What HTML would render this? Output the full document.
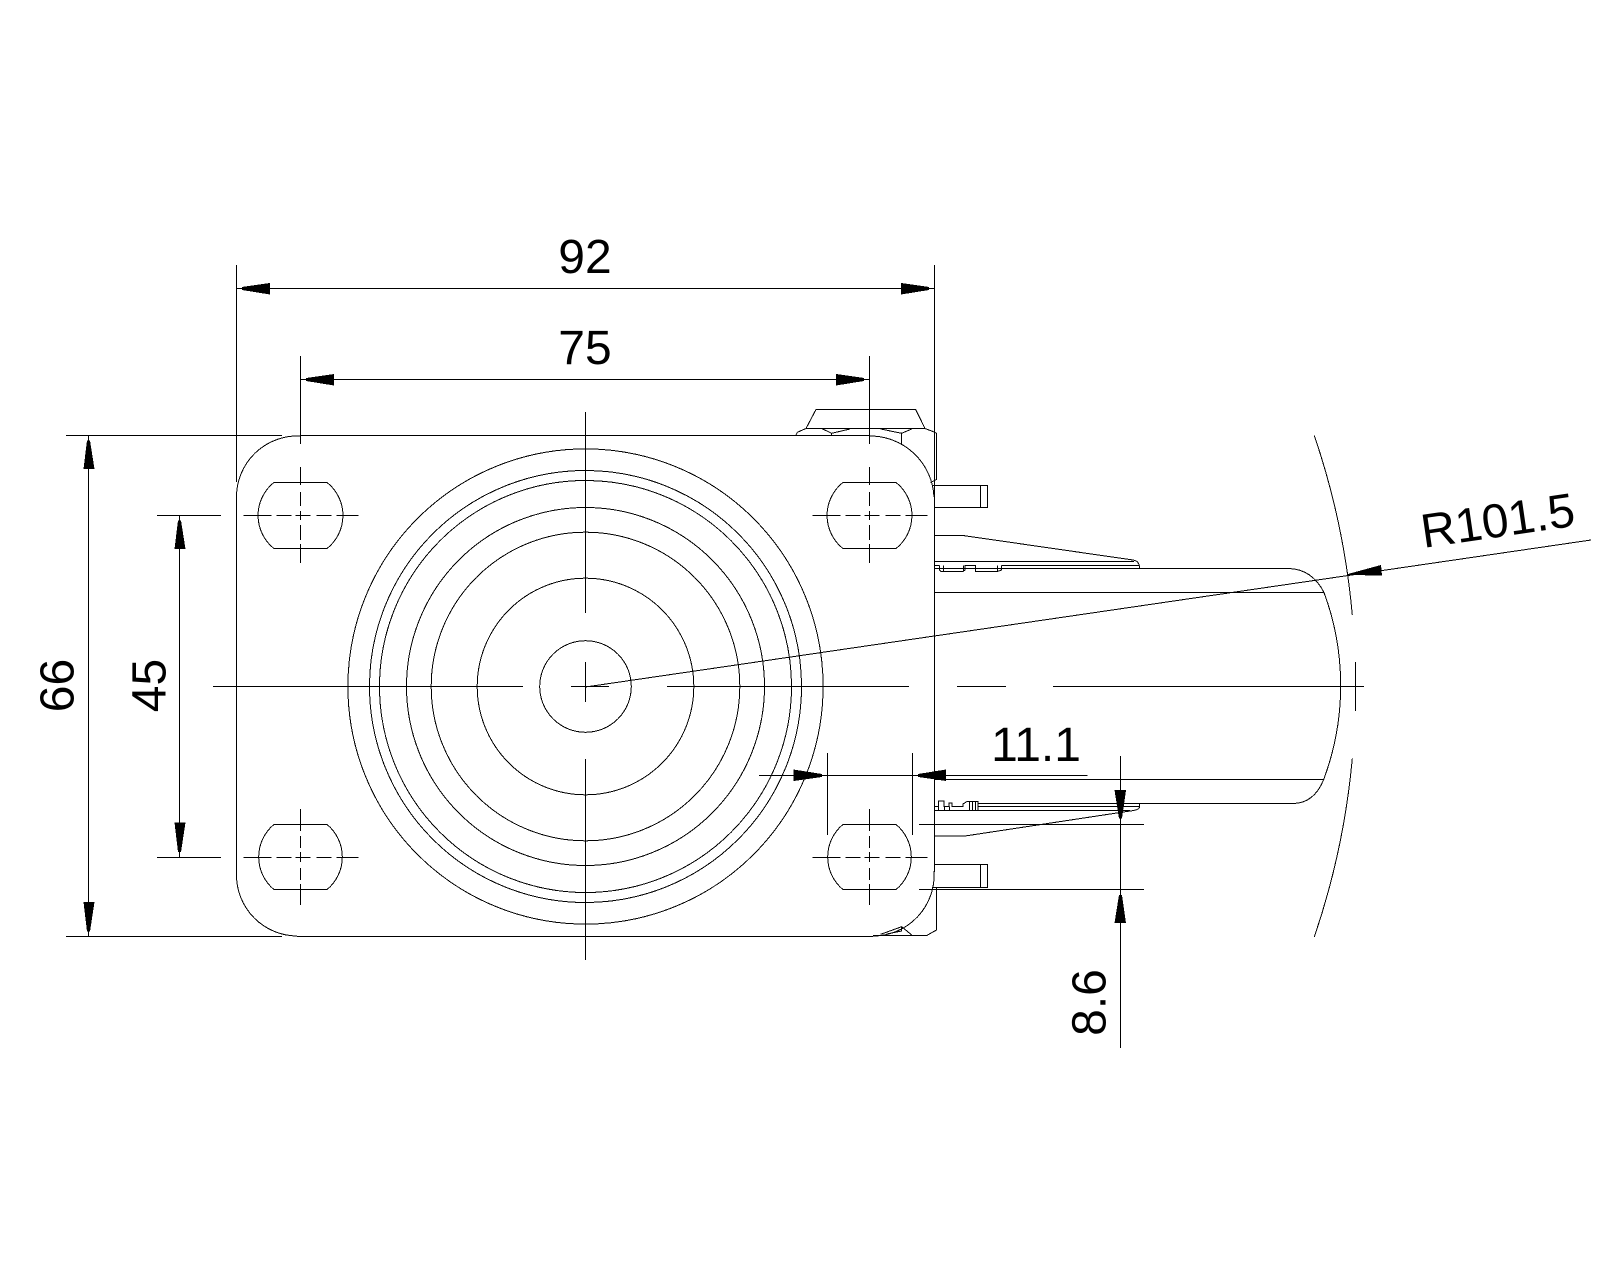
<!DOCTYPE html>
<html><head><meta charset="utf-8"><style>
html,body{margin:0;padding:0;background:#fff;width:1600px;height:1280px;overflow:hidden}
svg{display:block}
text{font-family:"Liberation Sans",sans-serif;font-size:48px;fill:#000;stroke:none}
</style></head><body>
<svg width="1600" height="1280" viewBox="0 0 1600 1280" xmlns="http://www.w3.org/2000/svg">
<rect width="1600" height="1280" fill="#fff"/>
<g fill="none" stroke="#000" stroke-width="1" shape-rendering="crispEdges">
<!-- circles -->
<circle cx="585.5" cy="686.5" r="237.6"/>
<circle cx="585.5" cy="686.5" r="216"/>
<circle cx="585.5" cy="686.5" r="206"/>
<circle cx="585.5" cy="686.5" r="179"/>
<circle cx="585.5" cy="686.5" r="154.3"/>
<circle cx="585.5" cy="686.5" r="108.3"/>
<circle cx="585.5" cy="686.5" r="45.8"/>
<!-- plate -->
<path d="M236.5 265V482M236.5 497V875M934.5 265V872"/>
<path d="M236.5 497A61 61 0 0 1 300 436M236.5 875A61 61 0 0 0 297 936M869.5 436A64 64 0 0 1 934 497M934 871A61 61 0 0 1 873 936"/>
<path d="M66 435.5H282M300.5 435.5H869.5M66 936.5H282M297 936.5H873"/>
<!-- holes -->
<path d="M273.9 482.5H327.1A42.3 42.3 0 0 1 327.1 548.5H273.9A42.3 42.3 0 0 1 273.9 482.5Z"/>
<path d="M842.9 482.5H896.1A42.3 42.3 0 0 1 896.1 548.5H842.9A42.3 42.3 0 0 1 842.9 482.5Z"/>
<path d="M273.9 824.5H327.1A42.3 42.3 0 0 1 327.1 889.5H273.9A42.3 42.3 0 0 1 273.9 824.5Z"/>
<path d="M842.9 824.5H896.1A42.3 42.3 0 0 1 896.1 889.5H842.9A42.3 42.3 0 0 1 842.9 824.5Z"/>
<!-- hole centre lines -->
<path d="M243.5 515.5H271.5M276.5 515.5H291.5M295.5 515.5H310.5M316.5 515.5H331.5M336.5 515.5H358.5"/>
<path d="M812.5 515.5H840.5M845.5 515.5H860.5M864.5 515.5H879.5M885.5 515.5H900.5M905.5 515.5H927.5"/>
<path d="M243.5 857.5H271.5M276.5 857.5H291.5M295.5 857.5H310.5M316.5 857.5H331.5M336.5 857.5H358.5"/>
<path d="M812.5 857.5H840.5M845.5 857.5H860.5M864.5 857.5H879.5M885.5 857.5H900.5M905.5 857.5H927.5"/>
<path d="M300.5 356V444M300.5 467V485M300.5 492V506M300.5 511V520M300.5 525V540M300.5 544V563"/>
<path d="M869.5 356V444M869.5 467V485M869.5 492V506M869.5 511V520M869.5 525V540M869.5 544V563"/>
<path d="M300.5 809V831M300.5 836V848M300.5 852V862M300.5 868V880M300.5 884V905"/>
<path d="M869.5 809V831M869.5 836V848M869.5 852V862M869.5 868V880M869.5 884V905"/>
<!-- main centre lines -->
<path d="M585.5 412V613M585.5 662V702M585.5 759V960"/>
<path d="M213 686.5H523M571 686.5H609M667 686.5H909M957 686.5H1006M1053 686.5H1364"/>
<path d="M1355.5 662V711"/>
<!-- nut top -->
<path d="M796 435L797.3 432.3L806 428.5L816 409.5H915.7L925 428.5L935 432.3L936.5 433.5V479.5L930.5 482.5"/>
<path d="M806 428.5H925"/>
<path d="M821.7 428.5L831.7 433.3L850 429M880.7 429L901.7 433.3L911.7 429M831.7 433.3V435M901.7 433.3V445"/>
<!-- upper pin -->
<path d="M932 485.5H987.5V507.5H934.5M980.5 485.5V507.5"/>
<!-- upper lever -->
<path d="M934.5 535.5H963L1133 560Q1139.5 561 1139.5 568"/>
<path d="M934.5 561.5H1134M1001.5 565.5H1139M934.5 568.5H1288.5M934.5 592.5H1323.5"/>
<path d="M934.5 565.5H939.5M939.5 565.5V570L941 571.5H963L965 570V565.5H975.5V571.5H997.5L1001.5 570V565.5M943.5 565.5V571.5M963.5 565.5V571.5M997.5 565.5V571.5M965.5 565.5H975.5"/>
<!-- wheel -->
<path d="M1288.5 568.5Q1312 569 1324 592.5A268 268 0 0 1 1323.5 780Q1314 803 1293.5 803.5"/>
<path d="M934.5 779.5H1323.5M1139 803.5H1293.5"/>
<!-- lower lever -->
<path d="M978 803.5H1139.5V807Q1139.5 810 1130 811L965 836H934.5"/>
<path d="M978 806.5H1139M934.5 810.5H1130"/>
<path d="M934.5 806.5H938.5V801H944V806.5H949V803H952V806.5H963V804L967 801.5H978V810.5M969.5 801.5V810M972.5 801.5V810M975.5 801.5V810M938.5 806.5V810.5M944.5 806.5V810.5M949.5 806.5V810.5"/>
<!-- lower pin -->
<path d="M934.5 864.5H987.5V887.5H932M980.5 864.5V887.5"/>
<!-- lower nut -->
<path d="M936.5 888V930L926.7 935.5H873M880.7 934.3L901.7 926.7L911.7 935M901.7 926.7V931L886.7 934"/>
<!-- R arcs -->
<path d="M1314.3 435.5A770 770 0 0 1 1352.3 615M1352.3 758.5A770 770 0 0 1 1314.3 937"/>
<!-- dims -->
<path d="M236.5 288.5H934.5M300.5 379.5H869.5"/>
<path d="M88.5 435.5V936.5M179.5 515.5V857.5M157 515.5H221M157 857.5H221"/>
<path d="M759 775.5H1087.5M827.5 753V835M912.5 753V835"/>
<path d="M1120.5 756V1048M919 824.5H1144M919 889.5H1144"/>
<path d="M585.5 687L1591 540"/>
</g>
<!-- arrows -->
<g fill="#000" stroke="none" shape-rendering="crispEdges">
<polygon points="242,287 242,290 270,294.5 270,283"/>
<polygon points="929,287 929,290 901,294.5 901,283"/>
<polygon points="306,378 306,381 334,385.5 334,374"/>
<polygon points="864,378 864,381 836,385.5 836,374"/>
<polygon points="87,440.5 90,440.5 94.5,469 83.5,469"/>
<polygon points="87,931.5 90,931.5 94.5,902 83.5,902"/>
<polygon points="178,520.5 181,520.5 185.5,549 174.5,549"/>
<polygon points="178,852 181,852 185.5,822.5 174.5,822.5"/>
<polygon points="822,774 822,777 793.5,781 793.5,769.5"/>
<polygon points="918,774 918,777 946,781 946,769.5"/>
<polygon points="1119,818.5 1122,818.5 1126,790 1114.5,790"/>
<polygon points="1119,895 1122,895 1126,923 1114.5,923"/>
<polygon points="1348,574 1348,575 1382,575.5 1381,565"/>
</g>
<!-- labels -->
<text x="585" y="273" text-anchor="middle">92</text>
<text x="585" y="364" text-anchor="middle">75</text>
<text transform="translate(73.5,685.5) rotate(-90)" text-anchor="middle">66</text>
<text transform="translate(165.5,685.5) rotate(-90)" text-anchor="middle">45</text>
<text x="1036" y="761" text-anchor="middle">11.1</text>
<text transform="translate(1105.5,1002.5) rotate(-90)" text-anchor="middle">8.6</text>
<text transform="translate(1423.5,548) rotate(-8.3)">R101.5</text>
</svg>
</body></html>
